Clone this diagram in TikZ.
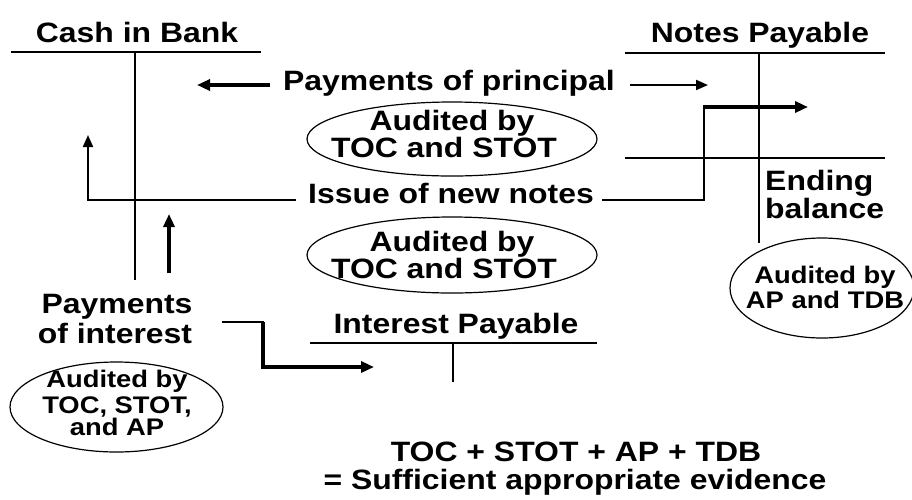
\documentclass[tikz,border=0pt]{standalone}
\usepackage{fontspec}
\setmainfont{Liberation Sans}[FakeStretch=1.14]
\usetikzlibrary{arrows.meta}
\begin{document}
\begin{tikzpicture}[x=1pt,y=-1pt,
  big/.style={font=\fontsize{28}{28}\selectfont\bfseries, inner sep=0pt, anchor=base},
  small/.style={font=\fontsize{24}{24}\selectfont\bfseries, inner sep=0pt, anchor=base},
  acct/.style={line width=2pt},
  oval/.style={line width=1.2pt},
  thinarrow/.style={line width=2pt, -{Triangle[length=12pt,width=10pt]}},
  thickarrow/.style={line width=3.5pt, -{Triangle[length=13pt,width=11pt]}},
  flow/.style={line width=2pt}]
\useasboundingbox (0,0) rectangle (912,499);

% ---- Cash in Bank T-account
\node[big] (cash) at (137,42) {Cash in Bank};
\coordinate (cashL) at (11,52);
\coordinate (cashR) at (261,52);
\coordinate (cashTop) at (135,52);
\coordinate (cashBot) at (135,280);
\draw[acct] (cashL) -- (cashR);
\draw[acct] (cashTop) -- (cashBot);

% ---- Notes Payable T-account
\node[big] (notes) at (760,42) {Notes Payable};
\coordinate (notesL) at (625,53);
\coordinate (notesR) at (885,53);
\coordinate (notesTop) at (759,53);
\coordinate (notesBot) at (759,243);
\coordinate (closeL) at (625,158);
\coordinate (closeR) at (885,158);
\draw[acct] (notesL) -- (notesR);
\draw[acct] (notesTop) -- (notesBot);
\draw[acct] (closeL) -- (closeR);

% ---- Interest Payable T-account
\node[big] (intp) at (456,333) {Interest Payable};
\coordinate (intL) at (310,343);
\coordinate (intR) at (597,343);
\coordinate (intTop) at (453,343);
\coordinate (intBot) at (453,382);
\draw[acct] (intL) -- (intR);
\draw[acct] (intTop) -- (intBot);

% ---- Payments of principal
\node[big] (princ) at (449,90) {Payments of principal};
\coordinate (princA) at (270,85);
\coordinate (princB) at (197,85);
\coordinate (princC) at (630,85);
\coordinate (princD) at (708,85);
\draw[thickarrow] (princA) -- (princB);
\draw[thinarrow] (princC) -- (princD);

% ---- first audit oval
\node[big] (a1top) at (452,130) {Audited by};
\node[big] (a1bot) at (444,157) {TOC and STOT};
\coordinate (a1) at (452,139);
\draw[oval] (a1) ellipse [x radius=145, y radius=37];

% ---- Issue of new notes
\node[big] (issue) at (451,203) {Issue of new notes};
\coordinate (issL) at (296,200);
\coordinate (issCorner) at (88,200);
\coordinate (issTip) at (88,135);
\draw[flow, -{Triangle[length=12pt,width=10pt]}] (issL) -- (issCorner) -- (issTip);
\coordinate (issR) at (602,200);
\coordinate (issUp) at (704,200);
\coordinate (issBend) at (704,107);
\coordinate (issEnd) at (808,107);
\draw[flow] (issR) -- (issUp) -- (issBend);
\draw[line width=4pt, -{Triangle[length=13pt,width=11pt]}] ([xshift=-1pt]issBend) -- (issEnd);

% ---- second audit oval
\node[big] (a2top) at (452,251) {Audited by};
\node[big] (a2bot) at (444,278) {TOC and STOT};
\coordinate (a2) at (452,255);
\draw[oval] (a2) ellipse [x radius=145, y radius=38];

% ---- interest paid back into cash
\coordinate (upBot) at (169,273);
\coordinate (upTip) at (169,214);
\draw[thickarrow] (upBot) -- (upTip);

% ---- Ending balance
\node[big, anchor=base west] (end1) at (765,190) {Ending};
\node[big, anchor=base west] (end2) at (765,218) {balance};
\node[small] (a3top) at (825,283) {Audited by};
\node[small] (a3bot) at (825,308) {AP and TDB};
\coordinate (a3) at (822,288);
\draw[oval] (a3) ellipse [x radius=92, y radius=50];

% ---- Payments of interest
\node[big] (pay1) at (117,313) {Payments};
\node[big] (pay2) at (115,343) {of interest};
\node[small] (a4l1) at (117,387) {Audited by};
\node[small] (a4l2) at (117,413) {TOC, STOT,};
\node[small] (a4l3) at (117,435) {and AP};
\coordinate (a4) at (116.5,407);
\draw[oval] (a4) ellipse [x radius=106.5, y radius=45];

\coordinate (pi0) at (222,322);
\coordinate (pi1) at (263,322);
\coordinate (pi2) at (263,367);
\coordinate (pi3) at (374,367);
\draw[flow] (pi0) -- ([xshift=1pt]pi1);
\draw[thickarrow] (pi1) -- (pi2) -- (pi3);

% ---- summary
\node[big] (sum1) at (576,461) {TOC + STOT + AP + TDB};
\node[big] (sum2) at (575,489) {= Sufficient appropriate evidence};
\end{tikzpicture}
\end{document}
